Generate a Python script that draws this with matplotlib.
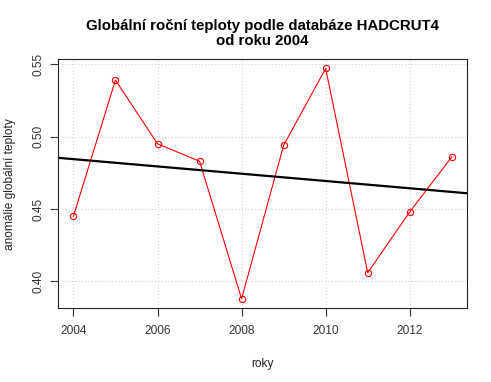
import numpy as np
import matplotlib.pyplot as plt

plt.rcParams['font.family'] = ['Liberation Sans', 'DejaVu Sans']

# ------------------ DATA -----------------------------------------
roky = [2004, 2005, 2006, 2007, 2008, 2009, 2010, 2011, 2012, 2013]
anomalie = [0.445, 0.539, 0.495, 0.483, 0.388, 0.494, 0.547, 0.406, 0.448, 0.486]
xticks = [2004, 2006, 2008, 2010, 2012]
yticks = [0.40, 0.45, 0.50, 0.55]
# -----------------------------------------------------------------

fig = plt.figure(figsize=(4.91, 3.82), dpi=100)
ax = fig.add_axes([0.1187, 0.1937, 0.8323, 0.6511])

# R-like 4% padding
xr = max(roky) - min(roky)
yr = max(anomalie) - min(anomalie)
ax.set_xlim(min(roky) - 0.04 * xr, max(roky) + 0.04 * xr)
ax.set_ylim(min(anomalie) - 0.04 * yr, max(anomalie) + 0.04 * yr)

ax.grid(True, color='lightgray', linestyle=(0, (1, 2)), linewidth=0.8)
ax.set_axisbelow(True)

ax.plot(roky, anomalie, color='red', linewidth=0.8, marker='o',
        markersize=4.5, markerfacecolor='none', markeredgewidth=0.8)

# regression line across the whole plot
k, q = np.polyfit(roky, anomalie, 1)
xl = np.array(ax.get_xlim())
ax.plot(xl, k * xl + q, color='black', linewidth=1.6)
ax.set_xlim(xl)

ax.set_xticks(xticks)
ax.set_xticklabels([str(t) for t in xticks])
ax.set_yticks(yticks)
ax.set_yticklabels(['%.2f' % t for t in yticks], rotation=90, va='center')
ax.tick_params(direction='out', length=6, width=0.8, labelsize=8.6, pad=6,
               colors='#333333')
ax.tick_params(axis='y', pad=4)
for s in ax.spines.values():
    s.set_linewidth(0.8)
    s.set_color('#222222')

ax.set_xlabel('roky', fontsize=8.6, color='#222222')
ax.xaxis.set_label_coords(0.5, -0.2)
ax.set_ylabel('anomálie globální teploty', fontsize=8.6, color='#222222')
ax.yaxis.set_label_coords(-0.1035, 0.5)
ax.set_title('Globální roční teploty podle databáze HADCRUT4\nod roku 2004',
             fontsize=10.8, fontweight='bold', pad=10, linespacing=1.1)

fig.savefig('out.png', dpi=100)
